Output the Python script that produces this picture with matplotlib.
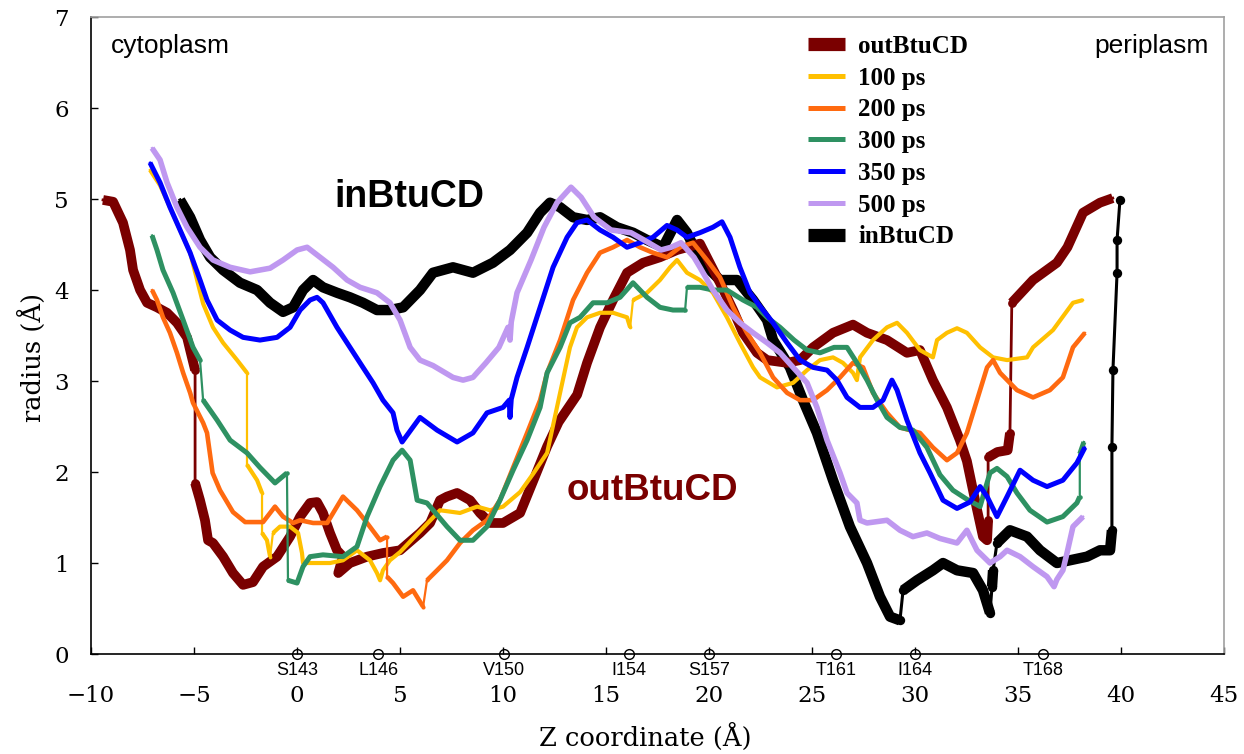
import numpy as np
import matplotlib
matplotlib.use('Agg')
import matplotlib.pyplot as plt

# pore radius profiles along the channel axis (Z in Angstrom, radius in Angstrom)
out_z = [-9.42, -8.93, -8.45, -8.11, -7.96, -7.62, -7.28, -6.80, -6.31, -5.83, -5.34, -5.19, -4.95, -4.95,
         -4.71, -4.47, -4.32, -4.08, -3.59, -3.11, -2.62, -2.14, -1.65, -0.97, -0.34, 0.15, 0.63, 0.97,
         1.26, 1.60, 1.94, 2.23, 2.00, 2.57, 3.40, 4.17, 5.00, 5.97, 6.46, 6.94, 7.28, 7.77, 8.40, 8.88,
         9.37, 10.00, 10.83, 11.46, 12.14, 12.70, 13.60, 14.08, 14.71, 15.34, 16.02, 16.80, 17.62, 18.45,
         19.56, 20.53, 21.17, 21.65, 22.33, 22.82, 23.79, 24.42, 25.05, 26.02, 26.99, 27.67, 28.64, 29.61,
         30.24, 30.87, 31.55, 32.18, 32.52, 33.00, 33.30, 33.50, 33.55, 33.55, 34.00, 34.50, 34.61, 34.70,
         35.73, 36.89, 37.40, 38.16, 38.98, 39.60]
out_r = [4.99, 4.97, 4.74, 4.44, 4.22, 4.00, 3.86, 3.81, 3.75, 3.64, 3.48, 3.34, 3.12, 1.88,
         1.69, 1.47, 1.25, 1.22, 1.07, 0.89, 0.76, 0.79, 0.96, 1.07, 1.29, 1.51, 1.66, 1.67,
         1.55, 1.33, 1.14, 1.07, 0.89, 1.00, 1.07, 1.11, 1.14, 1.33, 1.44, 1.69, 1.73, 1.77, 1.69, 1.55,
         1.44, 1.44, 1.55, 1.90, 2.28, 2.55, 2.85, 3.20, 3.59, 3.89, 4.19, 4.30, 4.36, 4.44,
         4.51, 4.08, 3.78, 3.53, 3.31, 3.23, 3.20, 3.23, 3.37, 3.53, 3.62, 3.53, 3.45, 3.31,
         3.34, 3.01, 2.71, 2.35, 2.12, 1.60, 1.29, 1.25, 1.47, 2.16, 2.22, 2.24, 2.43, 3.86,
         4.11, 4.30, 4.47, 4.85, 4.96, 5.01]

in_z = [-5.68, -5.19, -4.71, -4.22, -3.59, -2.77, -1.94, -1.31, -0.68, -0.19, 0.29, 0.78, 1.26, 1.94,
        2.57, 3.20, 3.88, 4.51, 5.15, 5.97, 6.60, 7.57, 8.54, 9.51, 10.34, 11.17, 11.80, 12.28, 12.77,
        13.40, 14.08, 14.71, 15.53, 16.31, 16.99, 17.77, 18.45, 18.93, 19.56, 20.53, 21.36, 22.14, 22.82,
        23.11, 23.93, 24.56, 25.24, 26.02, 26.84, 27.67, 28.30, 28.79, 29.27, 29.42, 30.10, 30.87, 31.36,
        32.04, 32.82, 33.30, 33.64, 33.74, 33.79, 33.98, 34.61, 35.44, 36.07, 36.89, 37.52, 38.35, 38.98,
        39.47, 39.56, 39.56, 39.61, 39.81, 39.81, 39.95]
in_r = [4.99, 4.80, 4.55, 4.36, 4.22, 4.08, 4.00, 3.86, 3.76, 3.81, 4.00, 4.11, 4.03, 3.97,
        3.92, 3.86, 3.78, 3.78, 3.81, 4.00, 4.19, 4.25, 4.19, 4.30, 4.44, 4.63, 4.85, 4.96, 4.91,
        4.80, 4.77, 4.80, 4.69, 4.63, 4.55, 4.47, 4.77, 4.63, 4.33, 4.11, 4.11, 3.89, 3.67,
        3.45, 3.15, 2.79, 2.43, 1.91, 1.40, 1.00, 0.63, 0.41, 0.37, 0.70, 0.81, 0.92, 1.00,
        0.92, 0.89, 0.70, 0.45, 0.74, 0.92, 1.22, 1.36, 1.29, 1.14, 1.00, 1.03, 1.07, 1.14,
        1.14, 1.36, 2.27, 3.12, 4.19, 4.55, 4.99]

ps100_z = [-7.14, -6.65, -6.17, -5.68, -5.19, -4.56, -4.08, -3.59, -2.91, -2.43, -2.43, -1.94, -1.70, -1.70,
           -1.46, -1.31, -1.17, -0.83, -0.34, 0.05, 0.24, 0.29, 0.97, 1.60, 2.23, 2.91, 3.54, 3.88, 4.03,
           4.17, 4.51, 5.00, 5.97, 6.94, 7.91, 8.74, 9.37, 10.00, 10.83, 11.46, 12.14, 12.77, 13.25, 13.59,
           14.08, 14.71, 15.34, 16.02, 16.17, 16.31, 16.99, 17.62, 18.11, 18.45, 18.93, 19.56, 20.19, 20.87,
           21.50, 22.14, 22.48, 23.30, 24.08, 24.76, 25.39, 26.02, 26.50, 26.99, 27.18, 27.33, 27.96, 28.64,
           29.13, 29.61, 30.24, 30.87, 31.07, 31.55, 32.04, 32.52, 33.16, 33.79, 34.47, 35.44, 35.73, 36.70,
           37.67, 38.16]
ps100_r = [5.32, 5.15, 4.91, 4.66, 4.41, 3.85, 3.59, 3.42, 3.23, 3.09, 2.08, 1.91, 1.77, 1.33,
           1.25, 1.07, 1.33, 1.40, 1.40, 1.33, 1.11, 1.00, 1.00, 1.00, 1.03, 1.14, 1.03, 0.89, 0.81,
           0.92, 1.03, 1.12, 1.35, 1.58, 1.55, 1.62, 1.58, 1.62, 1.78, 1.98, 2.21, 2.87, 3.37, 3.59,
           3.70, 3.75, 3.75, 3.70, 3.59, 3.89, 3.97, 4.11, 4.25, 4.33, 4.19, 4.11, 3.97, 3.70,
           3.42, 3.15, 3.04, 2.93, 2.98, 3.12, 3.23, 3.26, 3.20, 3.09, 3.01, 3.26, 3.45, 3.59,
           3.64, 3.53, 3.34, 3.26, 3.45, 3.53, 3.58, 3.53, 3.37, 3.26, 3.23, 3.26, 3.37, 3.56,
           3.86, 3.89]

ps200_z = [-7.04, -6.80, -6.51, -6.17, -5.83, -5.53, -5.19, -5.05, -4.56, -4.37, -4.10, -3.74, -3.11, -2.52,
           -1.65, -1.07, -0.68, -0.19, 0.15, 0.78, 1.46, 2.23, 2.91, 3.40, 4.03, 4.37, 4.37, 4.66, 5.15,
           5.63, 6.12, 6.31, 6.80, 7.28, 7.91, 8.54, 9.22, 9.85, 10.49, 11.17, 11.80, 12.14, 12.77, 13.40,
           14.08, 14.71, 15.34, 16.02, 16.65, 17.28, 17.96, 18.59, 19.22, 19.90, 20.53, 21.17, 21.84, 22.48,
           23.11, 23.79, 24.42, 25.05, 25.73, 26.36, 26.99, 27.48, 27.96, 28.64, 29.27, 30.24, 30.87, 31.55,
           32.04, 32.52, 33.01, 33.50, 33.79, 34.13, 34.95, 35.73, 36.55, 37.18, 37.67, 38.25]
ps200_r = [4.00, 3.89, 3.70, 3.53, 3.31, 3.09, 2.87, 2.76, 2.54, 2.43, 1.99, 1.80, 1.56, 1.45,
           1.45, 1.62, 1.51, 1.44, 1.47, 1.44, 1.44, 1.73, 1.58, 1.44, 1.25, 1.29, 0.85, 0.78, 0.63,
           0.70, 0.52, 0.81, 0.92, 1.03, 1.22, 1.36, 1.47, 1.69, 2.05, 2.43, 2.79, 3.09, 3.45, 3.89,
           4.19, 4.41, 4.47, 4.55, 4.47, 4.41, 4.36, 4.47, 4.52, 4.33, 4.14, 3.81, 3.53, 3.31,
           3.04, 2.87, 2.79, 2.79, 2.90, 3.04, 3.20, 3.15, 2.87, 2.65, 2.49, 2.43, 2.27, 2.13,
           2.21, 2.43, 2.79, 3.15, 3.23, 3.09, 2.90, 2.82, 2.90, 3.04, 3.37, 3.53]

ps300_z = [-7.04, -6.80, -6.51, -6.02, -5.53, -5.05, -4.71, -4.56, -3.88, -3.25, -2.43, -1.80, -1.07, -0.49,
           -0.44, 0.00, 0.29, 0.63, 1.26, 2.23, 2.91, 3.40, 4.03, 4.66, 5.10, 5.49, 5.83, 6.31, 7.28,
           7.91, 8.54, 9.22, 9.85, 10.49, 11.17, 11.80, 12.14, 12.77, 13.25, 13.74, 14.37, 15.05, 15.68,
           16.31, 16.99, 17.62, 18.25, 18.84, 18.93, 19.56, 20.19, 20.87, 21.65, 22.33, 22.82, 23.45, 24.13,
           24.76, 25.39, 26.07, 26.70, 27.18, 27.67, 28.16, 28.64, 29.27, 29.90, 30.58, 31.21, 31.84, 32.52,
           33.16, 33.30, 33.64, 33.98, 34.47, 34.95, 35.58, 36.41, 37.18, 37.86, 38.00, 38.00, 38.20]
ps300_r = [4.60, 4.44, 4.22, 3.97, 3.67, 3.37, 3.23, 2.79, 2.57, 2.35, 2.21, 2.05, 1.88, 1.99,
           0.81, 0.78, 0.96, 1.07, 1.09, 1.07, 1.18, 1.51, 1.84, 2.13, 2.24, 2.13, 1.69, 1.66, 1.40,
           1.25, 1.25, 1.40, 1.69, 2.02, 2.35, 2.71, 3.09, 3.37, 3.64, 3.70, 3.86, 3.86, 3.92,
           4.08, 3.92, 3.81, 3.78, 3.78, 4.03, 4.03, 4.00, 4.00, 3.89, 3.81, 3.70, 3.59, 3.45,
           3.34, 3.31, 3.37, 3.37, 3.20, 3.01, 2.79, 2.60, 2.49, 2.46, 2.27, 1.97, 1.80, 1.70,
           1.62, 1.73, 1.99, 2.04, 1.95, 1.77, 1.58, 1.45, 1.51, 1.66, 1.73, 2.20, 2.33]

ps350_z = [-7.14, -6.65, -6.17, -5.68, -5.19, -4.71, -4.37, -3.88, -3.25, -2.62, -1.80, -0.97, -0.34, 0.15,
           0.63, 0.97, 1.26, 1.94, 2.57, 3.20, 3.69, 4.17, 4.66, 4.85, 5.10, 5.97, 6.80, 7.77, 8.54,
           9.22, 10.00, 10.30, 10.34, 10.40, 10.68, 11.17, 11.80, 12.43, 13.11, 13.59, 14.08, 14.71, 15.34,
           16.02, 16.65, 17.28, 17.96, 18.45, 18.93, 19.56, 20.19, 20.63, 21.02, 21.50, 21.99, 22.48, 23.11,
           23.79, 24.42, 25.05, 25.73, 26.21, 26.70, 27.33, 27.96, 28.45, 28.88, 29.13, 29.61, 30.24, 30.73,
           31.36, 32.04, 32.67, 33.16, 33.50, 33.98, 34.47, 35.10, 35.73, 36.41, 37.18, 37.86, 38.25]
ps350_r = [5.40, 5.18, 4.91, 4.66, 4.41, 4.11, 3.89, 3.67, 3.56, 3.48, 3.45, 3.48, 3.59, 3.78,
           3.89, 3.92, 3.86, 3.59, 3.37, 3.15, 2.98, 2.79, 2.65, 2.46, 2.33, 2.60, 2.46, 2.33, 2.43,
           2.65, 2.71, 2.79, 2.60, 2.80, 3.04, 3.37, 3.81, 4.25, 4.58, 4.74, 4.77, 4.66, 4.58,
           4.47, 4.52, 4.58, 4.71, 4.66, 4.58, 4.63, 4.69, 4.75, 4.58, 4.25, 3.97, 3.82, 3.64,
           3.42, 3.23, 3.15, 3.12, 3.01, 2.82, 2.71, 2.71, 2.79, 3.01, 2.90, 2.57, 2.21, 1.99,
           1.69, 1.60, 1.67, 1.84, 1.73, 1.51, 1.73, 2.02, 1.91, 1.84, 1.91, 2.10, 2.27]

ps500_z = [-7.04, -6.65, -6.31, -5.83, -5.34, -4.71, -4.08, -3.25, -2.28, -1.31, -0.68, 0.00, 0.49, 1.12,
           1.75, 2.43, 3.06, 3.88, 4.51, 5.00, 5.49, 5.97, 6.60, 7.57, 8.06, 8.54, 9.17, 9.80, 10.24,
           10.34, 10.40, 10.68, 11.36, 11.99, 12.62, 13.30, 13.79, 14.42, 15.24, 16.21, 16.84, 17.67, 18.16,
           18.64, 19.27, 19.56, 20.19, 20.87, 21.50, 22.14, 22.82, 23.45, 24.08, 24.76, 25.24, 25.73, 26.36,
           26.70, 27.18, 27.33, 27.67, 28.64, 29.27, 29.90, 30.58, 31.21, 32.04, 32.52, 33.01, 33.64, 34.13,
           34.47, 35.10, 35.73, 36.41, 36.75, 36.89, 37.18, 37.38, 37.67, 38.16]
ps500_r = [5.56, 5.43, 5.18, 4.91, 4.69, 4.47, 4.33, 4.25, 4.20, 4.24, 4.33, 4.44, 4.47, 4.36,
           4.25, 4.11, 4.03, 3.97, 3.86, 3.67, 3.37, 3.23, 3.17, 3.04, 3.01, 3.04, 3.20, 3.37, 3.59,
           3.45, 3.65, 3.97, 4.33, 4.69, 4.96, 5.13, 5.02, 4.80, 4.66, 4.63, 4.55, 4.44, 4.47,
           4.52, 4.36, 4.25, 4.00, 3.78, 3.64, 3.53, 3.42, 3.31, 3.15, 2.98, 2.71, 2.35, 1.99,
           1.77, 1.66, 1.47, 1.44, 1.47, 1.36, 1.29, 1.33, 1.27, 1.22, 1.36, 1.14, 1.00, 1.07,
           1.14, 1.07, 0.96, 0.85, 0.74, 0.82, 0.92, 1.11, 1.40, 1.51]

# residues marked on the Z axis
res_names = ['S143', 'L146', 'V150', 'I154', 'S157', 'T161', 'I164', 'T168']
res_z = [0.0, 3.95, 10.05, 16.1, 20.0, 26.15, 30.0, 36.2]


def draw(ax, z, r, color, lw, thin, zorder, label):
    # thin line everywhere, thick line broken where the profile jumps
    z = np.asarray(z, float)
    r = np.asarray(r, float)
    ax.plot(z, r, color=color, lw=thin, zorder=zorder, solid_joinstyle='round')
    jump = (np.abs(np.diff(z)) < 0.25) & (np.abs(np.diff(r)) > 0.25)
    zz, rr = [z[0]], [r[0]]
    for i in range(1, len(z)):
        if jump[i - 1]:
            zz.append(np.nan)
            rr.append(np.nan)
        zz.append(z[i])
        rr.append(r[i])
    line, = ax.plot(zz, rr, color=color, lw=lw, zorder=zorder, label=label,
                    solid_capstyle='butt', solid_joinstyle='round')
    idx = np.where(jump)[0]
    if len(idx):
        ends = np.unique(np.concatenate([idx, idx + 1]))
        ax.plot(z[ends], r[ends], 'o', color=color, ms=lw * 0.9, mew=0, zorder=zorder)
    return line


fig = plt.figure(figsize=(12.44, 7.54), dpi=100)
ax = fig.add_axes([0.0732, 0.1326, 0.9107, 0.8448])

h_in = draw(ax, in_z, in_r, 'black', 7.5, 2.2, 2, 'inBtuCD')
h_out = draw(ax, out_z, out_r, '#7a0000', 7, 2.0, 3, 'outBtuCD')
h100 = draw(ax, ps100_z, ps100_r, '#ffc000', 3.0, 1.6, 4, '100 ps')
h200 = draw(ax, ps200_z, ps200_r, '#ff6a10', 3.3, 1.6, 5, '200 ps')
h300 = draw(ax, ps300_z, ps300_r, '#2e9162', 3.6, 1.6, 6, '300 ps')
h350 = draw(ax, ps350_z, ps350_r, '#0000ff', 3.6, 1.6, 7, '350 ps')
h500 = draw(ax, ps500_z, ps500_r, '#bf98f0', 4.0, 1.6, 8, '500 ps')

ax.set_xlim(-10, 45)
ax.set_ylim(0, 7)
ax.set_xticks(np.arange(-10, 46, 5))
ax.set_yticks(np.arange(0, 8, 1))
ax.tick_params(direction='in', length=5, width=1, labelsize=16.5)
ax.tick_params(axis='x', pad=22)
ax.tick_params(axis='y', pad=16)
for t in ax.get_xticklabels() + ax.get_yticklabels():
    t.set_family('DejaVu Serif')

for s in ['left', 'bottom']:
    ax.spines[s].set_linewidth(1.2)
    ax.spines[s].set_color('black')
for s in ['top', 'right']:
    ax.spines[s].set_linewidth(1.2)
    ax.spines[s].set_color('#a0a0a0')

ax.set_xlabel('Z coordinate (Å)', fontsize=18.5, family='DejaVu Serif')
ax.xaxis.set_label_coords(0.489, -0.108)
ax.set_ylabel('radius (Å)', fontsize=18.5, family='DejaVu Serif')
ax.yaxis.set_label_coords(-0.040, 0.466)

# residue positions on the axis
ax.plot(res_z, np.zeros(len(res_z)), 'o', mfc='none', mec='black', ms=7, mew=1,
        clip_on=False, zorder=10)
for name, z in zip(res_names, res_z):
    ax.annotate(name, (z, 0), xytext=(0, -6), textcoords='offset points', ha='center', va='top',
                fontsize=13, family='Liberation Sans', annotation_clip=False)

ax.text(-6.17, 6.68, 'cytoplasm', ha='center', va='center', fontsize=19, family='Liberation Sans')
ax.text(41.46, 6.68, 'periplasm', ha='center', va='center', fontsize=19, family='Liberation Sans')
ax.text(5.44, 5.02, 'inBtuCD', ha='center', va='center', fontsize=27, fontweight='bold',
        family='Liberation Sans')
ax.text(17.23, 1.80, 'outBtuCD', ha='center', va='center', fontsize=26.5, fontweight='bold',
        family='Liberation Sans', color='#7a0000')

leg = ax.legend(handles=[h_out, h100, h200, h300, h350, h500, h_in], loc='upper left',
                bbox_to_anchor=(0.633, 0.972), frameon=False, borderpad=0, borderaxespad=0,
                handlelength=1.48, handletextpad=0.52, labelspacing=0.35,
                prop={'family': 'Liberation Serif', 'weight': 'bold', 'size': 18})
for ln, w in zip(leg.get_lines(), [9.5, 3.6, 3.6, 3.6, 3.6, 3.6, 9.5]):
    ln.set_linewidth(w)

fig.savefig('out.png', dpi=100)
